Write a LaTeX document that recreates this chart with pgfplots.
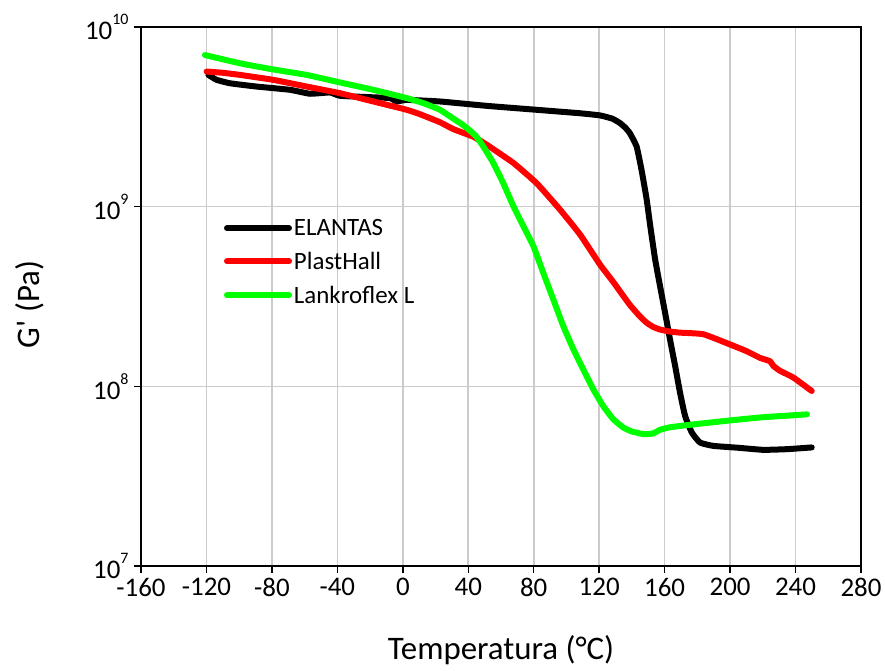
\documentclass[border=0pt]{standalone}
\usepackage{pgfplots}
\pgfplotsset{compat=1.18}
\usepackage{fontspec}
\setmainfont{Carlito}
\newcommand{\tkf}{\fontsize{27}{32}\selectfont}
\newcommand{\pw}[1]{10\raisebox{0.55em}{\fontsize{16}{16}\selectfont #1}}
\definecolor{gridgray}{RGB}{204,204,204}
\definecolor{pgreen}{RGB}{0,255,0}
\definecolor{pred}{RGB}{255,0,0}
\begin{document}
\begin{tikzpicture}
\useasboundingbox (-141bp,-105bp) rectangle (744bp,566bp);
\begin{axis}[
  scale only axis,
  width=720bp, height=539bp,
  at={(0,0)}, anchor=south west,
  xmin=-160, xmax=280,
  ymode=log, ymin=1e7, ymax=1e10,
  xtick={-160,-120,-80,-40,0,40,80,120,160,200,240,280},
  xticklabels={-160,-120,-80,-40,0,40,80,120,160,200,240,280},
  ytick={1e7,1e8,1e9,1e10},
  yticklabels={\pw{7},\pw{8},\pw{9},\pw{10}},
  minor tick length=0pt,
  xtick pos=bottom, ytick pos=left,
  tick align=outside,
  major tick length=7bp,
  tick style={black, line width=1.5bp},
  axis line style={black, line width=1.8bp},
  grid=major,
  major grid style={gridgray, line width=1.6bp},
  ticklabel style={font=\tkf},
  xticklabel style={yshift=-2bp},
  yticklabel style={xshift=-2bp},
  xlabel={Temperatura (°C)},
  ylabel={G\textquotesingle{} (Pa)},
  xlabel style={font=\fontsize{33}{38}\selectfont, at={(axis description cs:0.5,0)}, anchor=center, yshift=-84bp},
  ylabel style={font=\fontsize{33}{38}\selectfont, at={(axis description cs:0,0.5)}, anchor=center, xshift=-8bp, yshift=111bp},
  legend style={at={(axis description cs:0.115,0.647)}, anchor=north west, draw=none, fill=none,
    font=\fontsize{25}{29}\selectfont, row sep=11bp, inner sep=0pt},
  legend cell align=left,
  legend image code/.code={\draw[#1, line cap=round] (0bp,0bp) -- (62bp,0bp);},
  every axis plot/.append style={line width=6bp, line cap=round, line join=round, smooth, tension=0.25},
]
\addplot[black] coordinates {
(-118.8,5.41e9) (-113.8,5.08e9) (-105.6,4.86e9) (-89.3,4.66e9) (-68.9,4.47e9)
(-56.7,4.25e9) (-44.5,4.32e9) (-38.4,4.14e9) (-18,4.06e9) (-7.8,4.02e9)
(-3.7,3.85e9) (2.4,3.93e9) (22.7,3.85e9) (51.3,3.64e9) (80,3.47e9)
(108.3,3.31e9) (120.5,3.22e9) (128,3.09e9) (132.7,2.92e9) (136,2.75e9)
(138.8,2.56e9) (142.9,2.16e9) (146,1.58e9) (149,1.10e9) (151.1,7.94e8)
(154.2,5.08e8) (157.2,3.61e8) (160.3,2.56e8) (163.3,1.82e8) (166.4,1.30e8)
(169.4,9.23e7) (172.5,6.84e7) (176.6,5.53e7) (181.7,4.86e7) (189.8,4.66e7)
(205,4.55e7) (220.3,4.43e7) (235,4.47e7) (249.9,4.57e7)
};
\addlegendentry{ELANTAS}
\addplot[pred] coordinates {
(-119.9,5.65e9) (-110,5.56e9) (-99.5,5.41e9) (-79.2,5.08e9) (-58.7,4.66e9)
(-38.4,4.28e9) (-18,3.85e9) (2.4,3.46e9) (10.5,3.27e9) (22.7,2.95e9)
(30.9,2.70e9) (43.1,2.45e9) (51.3,2.21e9) (67.6,1.75e9) (81.8,1.35e9)
(96.1,9.62e8) (108.3,7.00e8) (120.5,4.76e8) (128.7,3.80e8) (135,3.16e8)
(139,2.82e8) (144.9,2.45e8) (149,2.26e8) (153,2.14e8) (157.2,2.07e8)
(163,2.02e8) (169.4,1.99e8) (183.6,1.95e8) (200,1.71e8) (210,1.57e8)
(218.3,1.44e8) (224.4,1.38e8) (226.4,1.30e8) (230.5,1.22e8) (238.6,1.12e8)
(249.9,9.42e7)
};
\addlegendentry{PlastHall}
\addplot[pgreen] coordinates {
(-120.9,6.98e9) (-99.5,6.28e9) (-80,5.82e9) (-58.7,5.41e9) (-40,4.95e9)
(-18,4.47e9) (2.4,4.02e9) (12.5,3.77e9) (22.7,3.46e9) (30.9,3.09e9)
(36,2.88e9) (41.1,2.65e9) (45,2.45e9) (49.2,2.16e9) (55.3,1.75e9)
(61.4,1.35e9) (67.6,1.005e9) (73.7,7.78e8) (79.8,6.03e8) (85.8,4.29e8)
(92,3.04e8) (98.1,2.16e8) (104.2,1.61e8) (110.3,1.24e8) (116.4,9.62e7)
(122.5,7.76e7) (128.6,6.56e7) (134.8,5.89e7) (140,5.60e7) (142.9,5.53e7)
(145,5.46e7) (148,5.41e7) (153.1,5.47e7) (157.2,5.73e7) (163.4,5.92e7)
(175,6.10e7) (189.6,6.31e7) (205,6.53e7) (220,6.73e7) (235,6.87e7)
(247,6.98e7)
};
\addlegendentry{Lankroflex L}
\end{axis}
\end{tikzpicture}
\end{document}
